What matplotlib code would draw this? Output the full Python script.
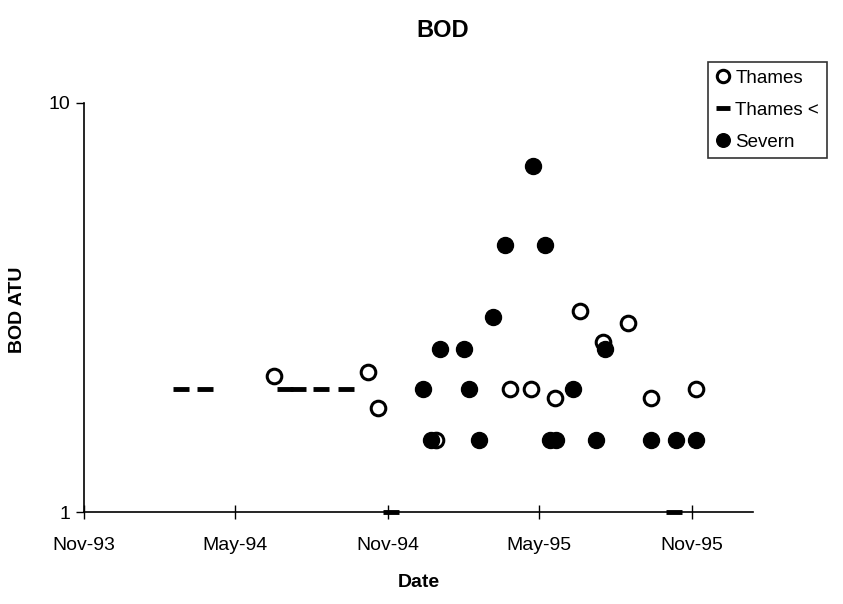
import pandas as pd
import matplotlib.pyplot as plt

plt.rcParams['font.family'] = ['Liberation Sans', 'DejaVu Sans']

# Thames - measured values
thames_dates = ['1994-06-17', '1994-10-08', '1994-10-20', '1994-12-29', '1995-03-27',
                '1995-04-22', '1995-05-21', '1995-06-19', '1995-07-17', '1995-08-16',
                '1995-09-13', '1995-11-06']
thames_bod = [2.15, 2.2, 1.8, 1.5, 2.0, 2.0, 1.9, 3.1, 2.6, 2.9, 1.9, 2.0]

# Thames - below detection limit
thames_lt_dates = ['1994-02-25', '1994-03-26', '1994-06-30', '1994-07-16', '1994-08-12',
                   '1994-09-11', '1994-11-04', '1995-10-10']
thames_lt_bod = [2.0, 2.0, 2.0, 2.0, 2.0, 2.0, 1.0, 1.0]

# Severn
severn_dates = ['1994-12-13', '1994-12-22', '1995-01-03', '1995-01-31', '1995-02-06',
                '1995-02-18', '1995-03-07', '1995-03-22', '1995-04-24', '1995-05-09',
                '1995-05-14', '1995-05-22', '1995-06-11', '1995-07-09', '1995-07-20',
                '1995-09-13', '1995-10-13', '1995-11-06']
severn_bod = [2.0, 1.5, 2.5, 2.5, 2.0, 1.5, 3.0, 4.5, 7.0, 4.5, 1.5, 1.5, 2.0, 1.5, 2.5,
              1.5, 1.5, 1.5]

tick_dates = ['1993-11-01', '1994-05-01', '1994-11-01', '1995-05-01', '1995-11-01']
tick_labels = ['Nov-93', 'May-94', 'Nov-94', 'May-95', 'Nov-95']

fig = plt.figure(figsize=(8.43, 6.04), dpi=100)
ax = fig.add_axes([0.0996, 0.152, 0.7935, 0.6775])

ax.plot(pd.to_datetime(thames_dates), thames_bod, linestyle='none', marker='o',
        markersize=10.5, markerfacecolor='white', markeredgecolor='black',
        markeredgewidth=2.2, label='Thames', zorder=3)
ax.plot(pd.to_datetime(thames_lt_dates), thames_lt_bod, linestyle='none', marker='_',
        markersize=12, markeredgewidth=3.5, color='black', label='Thames <',
        clip_on=False, zorder=3)
ax.plot(pd.to_datetime(severn_dates), severn_bod, linestyle='none', marker='o',
        markersize=11.5, color='black', label='Severn', zorder=4)

ax.set_yscale('log')
ax.set_ylim(1, 10)
ax.set_yticks([1, 10])
ax.set_yticklabels(['1', '10'])
ax.yaxis.set_minor_locator(plt.NullLocator())
ax.set_xlim(pd.Timestamp('1993-11-01'), pd.Timestamp('1996-01-13'))
ax.set_xticks(pd.to_datetime(tick_dates))
ax.set_xticklabels(tick_labels)

ax.spines['top'].set_visible(False)
ax.spines['right'].set_visible(False)
ax.spines['left'].set_linewidth(1.2)
ax.spines['bottom'].set_linewidth(1.2)
ax.tick_params(axis='x', direction='inout', length=10, width=1, labelsize=14, pad=13)
ax.tick_params(axis='y', direction='out', length=6, width=1, labelsize=14, pad=4)

ax.set_xlabel('Date', fontsize=14, fontweight='bold', labelpad=14)
ax.set_ylabel('BOD ATU', fontsize=14, fontweight='bold')
ax.yaxis.set_label_coords(-0.087, 0.494)
fig.text(0.5255, 0.95, 'BOD', ha='center', va='center', fontsize=17, fontweight='bold')

leg = ax.legend(loc='upper left', bbox_to_anchor=(0.933, 1.10), fontsize=13.5,
                frameon=True, fancybox=False, edgecolor='black', handlelength=0.8,
                handletextpad=0.25, borderpad=0.4, labelspacing=0.8, borderaxespad=0,
                markerscale=0.85)
leg.get_frame().set_linewidth(1.2)

fig.savefig('out.png', dpi=100)
